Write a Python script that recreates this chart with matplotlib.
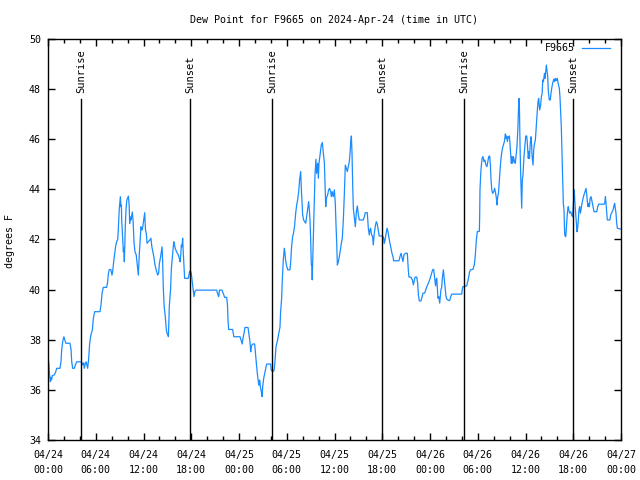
import matplotlib
matplotlib.use('Agg')
import matplotlib.pyplot as plt
import matplotlib.dates as mdates
from datetime import datetime, timedelta

# ---------------- data ----------------
start_time = datetime(2024, 4, 24, 0, 0)
end_time = datetime(2024, 4, 27, 0, 0)

hours = [
    0.00, 0.10, 0.20, 0.30, 0.37, 0.45, 0.54, 0.80, 0.95, 1.09, 1.50, 1.63, 1.72, 1.84, 2.00, 2.10,
    2.26, 2.76, 2.90, 2.98, 3.10, 3.30, 3.45, 3.60, 4.02, 4.20, 4.36, 4.48, 4.56, 4.68, 4.80, 4.98,
    5.10, 5.23, 5.36, 5.57, 5.70, 5.86, 6.53, 6.66, 6.79, 6.95, 7.37, 7.50, 7.58, 7.70, 7.90, 8.04,
    8.12, 8.25, 8.38, 8.50, 8.63, 8.76, 8.84, 8.96, 9.09, 9.17, 9.22, 9.26, 9.47, 9.53, 9.59, 9.72,
    9.80, 9.90, 10.10, 10.20, 10.26, 10.34, 10.42, 10.60, 10.70, 10.80, 10.93, 11.09, 11.22, 11.35,
    11.47, 11.60, 11.68, 11.80, 11.88, 12.00, 12.15, 12.25, 12.35, 12.45, 12.60, 12.80, 12.93, 13.05,
    13.30, 13.45, 13.60, 13.78, 13.90, 14.00, 14.15, 14.28, 14.33, 14.40, 14.49, 14.60, 14.74, 14.82,
    14.90, 15.12, 15.17, 15.24, 15.41, 15.50, 15.67, 15.75, 15.80, 15.90, 15.98, 16.15, 16.38, 16.50,
    16.60, 16.68, 16.75, 16.84, 16.92, 17.00, 17.10, 17.17, 17.63, 17.70, 17.78, 17.90, 18.00, 18.10,
    18.26, 18.35, 18.45, 18.60, 21.19, 21.30, 21.45, 21.55, 21.87, 22.10, 22.20, 22.45, 22.55, 22.62,
    22.70, 23.20, 23.28, 23.35, 24.13, 24.25, 24.40, 24.50, 24.63, 24.75, 25.13, 25.26, 25.38, 25.47,
    25.55, 25.63, 25.72, 25.97, 26.05, 26.18, 26.30, 26.43, 26.50, 26.55, 26.60, 26.68, 26.80, 26.90,
    26.98, 27.10, 27.31, 27.45, 27.50, 27.98, 28.05, 28.20, 28.40, 28.50, 28.65, 28.75, 28.85, 29.00,
    29.15, 29.22, 29.36, 29.44, 29.57, 29.70, 29.78, 29.85, 29.96, 30.12, 30.40, 30.50, 30.61, 30.74,
    30.85, 31.00, 31.12, 31.25, 31.37, 31.50, 31.62, 31.75, 31.84, 31.92, 32.00, 32.12, 32.25, 32.38,
    32.50, 32.63, 32.75, 32.84, 32.92, 33.00, 33.09, 33.15, 33.20, 33.34, 33.46, 33.55, 33.67, 33.75,
    33.89, 33.97, 34.05, 34.21, 34.34, 34.47, 34.60, 34.73, 34.85, 34.90, 34.97, 35.14, 35.26, 35.38,
    35.52, 35.60, 35.70, 35.84, 35.98, 36.10, 36.19, 36.28, 36.36, 36.49, 36.61, 36.74, 36.86, 36.98,
    37.11, 37.24, 37.36, 37.48, 37.61, 37.74, 37.86, 37.95, 38.04, 38.12, 38.20, 38.29, 38.37, 38.50,
    38.62, 38.75, 38.87, 39.00, 39.12, 39.62, 39.75, 39.87, 40.12, 40.25, 40.37, 40.45, 40.54, 40.66,
    40.79, 40.87, 41.00, 41.13, 41.25, 41.37, 41.50, 41.62, 42.05, 42.18, 42.25, 42.32, 42.45, 42.60,
    42.72, 42.85, 42.97, 43.10, 43.22, 43.35, 43.43, 44.10, 44.23, 44.36, 44.50, 44.60, 44.73, 44.90,
    45.15, 45.28, 45.36, 45.61, 45.78, 45.91, 46.04, 46.12, 46.33, 46.45, 46.54, 46.66, 46.87, 47.00,
    47.12, 47.33, 47.46, 47.58, 47.70, 47.83, 47.96, 48.08, 48.21, 48.33, 48.46, 48.54, 48.63, 48.70,
    48.77, 48.85, 48.93, 49.00, 49.10, 49.22, 49.30, 49.38, 49.46, 49.55, 49.68, 49.76, 49.89, 50.00,
    50.10, 50.39, 50.50, 50.60, 50.73, 51.98, 52.10, 52.24, 52.61, 52.74, 52.86, 52.98, 53.11, 53.40,
    53.57, 53.70, 53.82, 53.95, 54.20, 54.24, 54.28, 54.40, 54.54, 54.66, 54.78, 54.90, 55.03, 55.16,
    55.27, 55.38, 55.50, 55.60, 55.67, 55.76, 55.88, 56.00, 56.13, 56.25, 56.34, 56.42, 56.51, 56.60,
    56.72, 56.85, 56.97, 57.10, 57.22, 57.35, 57.47, 57.55, 57.64, 57.72, 57.85, 57.97, 58.05, 58.14,
    58.22, 58.30, 58.40, 58.48, 58.61, 58.72, 58.80, 58.93, 59.05, 59.13, 59.20, 59.25, 59.30, 59.39,
    59.48, 59.52, 59.60, 59.68, 59.81, 59.94, 60.03, 60.15, 60.20, 60.35, 60.43, 60.50, 60.60, 60.69,
    60.77, 60.83, 60.95, 61.03, 61.10, 61.24, 61.32, 61.41, 61.49, 61.57, 61.66, 61.70, 61.78, 61.90,
    62.00, 62.09, 62.17, 62.25, 62.38, 62.46, 62.54, 62.62, 62.70, 62.79, 62.87, 62.99, 63.12, 63.20,
    63.33, 63.41, 63.50, 63.58, 63.66, 63.75, 63.83, 63.91, 64.00, 64.10, 64.25, 64.33, 64.41, 64.50,
    64.58, 64.67, 64.75, 64.84, 64.88, 64.93, 65.05, 65.12, 65.20, 65.30, 65.37, 65.45, 65.55, 65.68,
    65.80, 65.91, 66.00, 66.08, 66.13, 66.20, 66.30, 66.40, 66.47, 66.55, 66.64, 66.72, 66.81, 66.90,
    67.00, 67.10, 67.23, 67.35, 67.48, 67.60, 67.68, 67.77, 67.86, 67.95, 68.03, 68.12, 68.24, 68.36,
    68.48, 68.61, 68.95, 69.07, 69.20, 69.90, 69.98, 70.04, 70.12, 70.20, 70.28, 70.60, 70.70, 70.80,
    70.89, 71.00, 71.14, 71.20, 71.26, 71.37, 71.46, 71.54, 71.90,
]

dewpoint = [
    37.30, 37.06, 36.60, 36.33, 36.50, 36.40, 36.57, 36.60, 36.70, 36.86, 36.86, 37.12, 37.59, 37.92, 38.12, 38.00,
    37.86, 37.86, 37.60, 37.12, 36.86, 36.86, 37.00, 37.12, 37.12, 37.12, 37.00, 37.08, 36.86, 37.04, 37.12, 36.86,
    37.20, 37.83, 38.15, 38.39, 38.85, 39.12, 39.12, 39.39, 39.85, 40.09, 40.09, 40.32, 40.62, 40.80, 40.80, 40.58,
    40.71, 41.11, 41.44, 41.74, 41.91, 42.00, 42.44, 43.24, 43.71, 43.31, 43.37, 42.78, 41.51, 41.65, 41.11, 42.58,
    43.18, 43.57, 43.73, 43.37, 42.64, 42.90, 42.78, 43.10, 42.70, 41.91, 41.51, 41.38, 40.98, 40.58,
    41.38, 42.05, 42.51, 42.38, 42.44, 42.71, 43.07, 42.38, 42.24, 41.85, 41.91, 41.98, 42.05, 41.71,
    41.31, 40.98, 40.78, 40.58, 40.65, 41.05, 41.31, 41.58, 41.71, 41.18, 40.05, 39.32, 38.92, 38.59,
    38.32, 38.12, 38.52, 39.32, 40.05, 40.85, 41.45, 41.78, 41.91, 41.78, 41.65, 41.51, 41.38, 41.25,
    41.11, 41.38, 41.78, 41.71, 42.05, 41.45, 40.85, 40.45, 40.45, 40.58, 40.71, 40.75, 40.65, 40.38,
    39.98, 39.72, 39.92, 39.98, 39.98, 39.85, 39.72, 39.98, 39.98, 39.78, 39.69, 39.69, 39.39, 38.79,
    38.41, 38.41, 38.26, 38.12, 38.12, 37.99, 37.83, 38.06, 38.26, 38.49, 38.49, 38.19, 37.92, 37.52,
    37.72, 37.79, 37.83, 37.83, 37.52, 37.06, 36.66, 36.33, 36.19, 36.33, 36.39, 36.13, 35.93, 35.73,
    36.13, 36.46, 36.79, 36.99, 37.03, 37.03, 36.79, 36.73, 36.77, 37.06, 37.72, 37.86, 37.99, 38.26,
    38.50, 39.06, 39.66, 40.39, 41.21, 41.65, 41.45, 41.18, 40.98, 40.79, 40.79, 41.12, 41.72, 42.12,
    42.25, 42.58, 43.05, 43.38, 43.58, 43.91, 44.40, 44.71, 43.98, 43.51, 42.98, 42.78, 42.71, 42.65,
    42.91, 43.24, 43.51, 43.18, 42.78, 42.05, 40.98, 40.98, 40.39, 42.05, 43.31, 44.58, 45.20, 44.64,
    45.04, 44.44, 45.04, 45.44, 45.77, 45.87, 45.47, 45.04, 43.84, 43.31, 43.64, 43.78, 43.98, 44.04,
    43.91, 43.71, 43.91, 43.71, 43.98, 43.45, 42.58, 41.85, 40.98, 41.12, 41.32, 41.58, 41.85, 42.05,
    42.78, 43.84, 44.97, 44.84, 44.71, 44.91, 45.11, 45.44, 45.90, 46.13, 45.44, 44.11, 43.24, 42.85,
    42.51, 43.11, 43.34, 42.98, 42.78, 42.78, 42.91, 43.07, 43.07, 42.45, 42.18, 42.38, 42.45, 42.18,
    42.12, 41.78, 42.25, 42.54, 42.71, 42.62, 42.38, 42.14, 42.14, 42.05, 41.85, 41.92, 42.18, 42.45,
    42.32, 42.05, 41.85, 41.65, 41.45, 41.32, 41.15, 41.15, 41.32, 41.45, 41.25, 41.12, 41.39, 41.45,
    41.45, 40.76, 40.50, 40.50, 40.39, 40.19, 40.39, 40.50, 40.50, 40.26, 39.79, 39.55, 39.55, 39.72,
    39.86, 39.86, 39.99, 40.10, 40.19, 40.28, 40.39, 40.52, 40.66, 40.79, 40.81, 40.59, 40.32, 40.15,
    40.39, 40.45, 40.06, 39.66, 39.72, 39.46, 39.72, 40.02, 40.06, 40.45, 40.79, 40.52, 40.06, 39.75,
    39.62, 39.56, 39.59, 39.72, 39.82, 39.82, 40.10, 40.12, 40.15, 40.32, 40.50, 40.72, 40.79, 40.81,
    40.99, 41.39, 41.98, 42.32, 42.32, 42.92, 43.98, 44.77, 45.24, 45.31, 45.11, 45.17, 44.97, 44.91,
    45.11, 45.31, 45.33, 44.91, 44.38, 43.98, 43.84, 43.91, 44.04, 43.84, 43.65, 43.38, 43.71, 43.84,
    44.38, 44.97, 45.37, 45.64, 45.77, 45.91, 46.21, 46.04, 46.13, 45.91, 46.10, 46.13, 45.84, 45.37,
    45.04, 45.31, 45.04, 45.31, 45.11, 45.04, 45.31, 45.71, 46.50, 47.30, 47.63, 47.03, 45.97, 44.64,
    43.58, 43.25, 44.38, 44.57, 45.31, 45.77, 46.13, 46.13, 45.97, 45.24, 45.51, 45.24, 45.84, 46.10,
    45.77, 45.31, 44.97, 45.57, 45.77, 45.97, 46.37, 46.84, 47.17, 47.50, 47.63, 47.43, 47.17, 47.37,
    47.70, 47.83, 48.37, 48.30, 48.63, 48.43, 48.70, 48.96, 48.76, 48.50, 47.90, 47.57, 47.57, 47.83,
    48.10, 48.23, 48.34, 48.39, 48.30, 48.43, 48.34, 48.37, 48.43, 48.23, 48.03, 47.70, 47.17, 46.50,
    45.57, 44.51, 43.45, 43.18, 42.65, 42.18, 42.11, 42.38, 42.78, 43.18, 43.31, 43.18, 43.05, 43.11,
    42.98, 42.91, 43.31, 43.71, 43.98, 43.51, 43.05, 42.65, 42.31, 42.45, 42.78, 43.18, 43.31, 43.05,
    43.24, 43.44, 43.64, 43.78, 43.91, 44.04, 43.84, 43.51, 43.31, 43.44, 43.31, 43.64, 43.71, 43.51,
    43.31, 43.11, 43.11, 43.31, 43.41, 43.41, 43.51, 43.71, 43.44, 43.11, 42.78, 42.78, 42.98, 43.05,
    43.11, 43.18, 43.38, 43.44, 43.31, 43.05, 42.65, 42.45, 42.42,
]

sun_event_hours = [4.18, 17.88, 28.17, 42.00, 52.30, 66.00]
sun_event_labels = ['Sunrise', 'Sunset', 'Sunrise', 'Sunset', 'Sunrise', 'Sunset']

station = 'F9665'
title = 'Dew Point for F9665 on 2024-Apr-24 (time in UTC)'
y_label = 'degrees F'
y_ticks = [34, 36, 38, 40, 42, 44, 46, 48, 50]

# ---------------- plot ----------------
plt.rcParams['font.family'] = ['DejaVu Sans Mono']
plt.rcParams['font.size'] = 7.2

fig = plt.figure(figsize=(6.4, 4.8), dpi=100)
ax_left, ax_bottom, ax_w, ax_h = 48 / 640, 1 - 440 / 480, 573 / 640, 401 / 480
ax = fig.add_axes([ax_left, ax_bottom, ax_w, ax_h])

times = [start_time + timedelta(hours=h) for h in hours]
ax.plot(times, dewpoint, color='#1a8cff', lw=0.9, label=station)

for h, lab in zip(sun_event_hours, sun_event_labels):
    t = start_time + timedelta(hours=h)
    ax.axvline(t, ymin=0, ymax=0.85, color='black', lw=1.0)
    ax.text(t, 0.866, lab, transform=ax.get_xaxis_transform(), rotation=90,
            ha='center', va='bottom', color='black', fontsize=7.5)

ax.set_xlim(start_time, end_time)
ax.set_ylim(y_ticks[0], y_ticks[-1])
ax.set_yticks(y_ticks)
ax.xaxis.set_major_locator(mdates.HourLocator(byhour=[0, 6, 12, 18]))
ax.xaxis.set_minor_locator(mdates.HourLocator(interval=2))
ax.xaxis.set_major_formatter(mdates.DateFormatter('%m/%d\n%H:%M'))

ax.tick_params(which='major', direction='in', top=True, right=True, length=5, width=1)
ax.tick_params(axis='x', which='major', pad=7)
ax.tick_params(axis='y', which='major', pad=5)
ax.tick_params(which='minor', direction='in', top=True, right=True, length=3, width=1)
for lbl in ax.get_xticklabels():
    lbl.set_linespacing(1.6)
for s in ax.spines.values():
    s.set_linewidth(1.0)

fig.text(ax_left + ax_w / 2, 1 - 20 / 480, title, ha='center', va='center')
fig.text(10 / 640, 1 - 241 / 480, y_label, rotation=90, ha='center', va='center')

ax.legend(loc='upper right', bbox_to_anchor=(0.981, 0.990), frameon=False,
          markerfirst=False, handlelength=2.8, handletextpad=0.7,
          borderaxespad=0, borderpad=0)

fig.savefig('out.png', dpi=100)
